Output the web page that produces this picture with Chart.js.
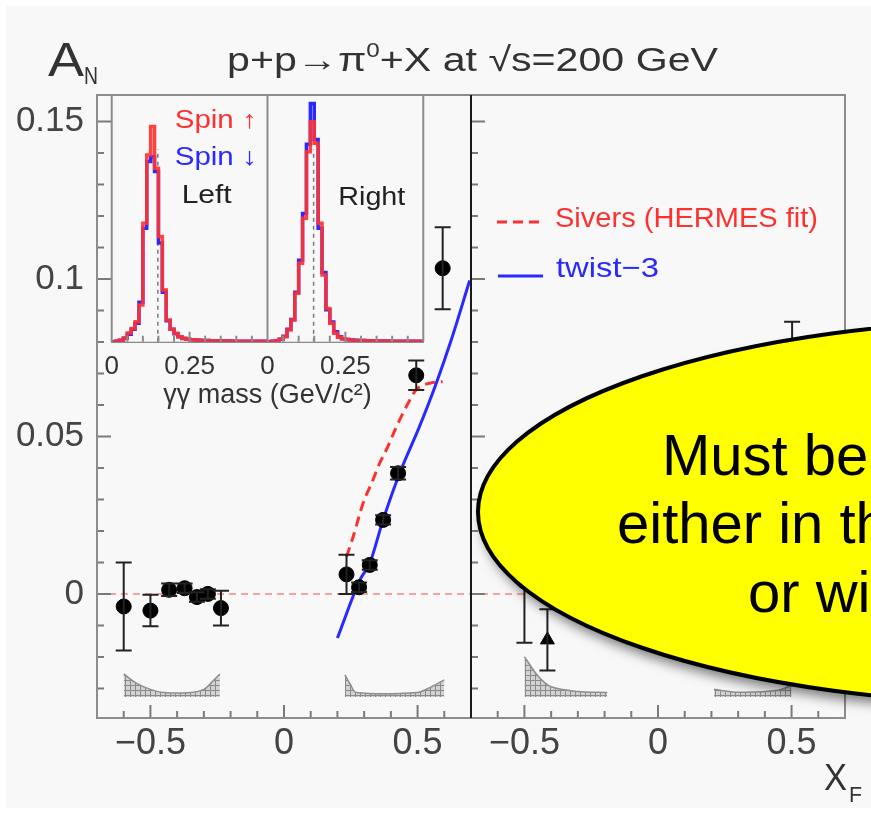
<!DOCTYPE html>
<html>
<head>
<meta charset="utf-8">
<script src="https://cdn.jsdelivr.net/npm/chart.js@4.4.1/dist/chart.umd.min.js"></script>
<style>
  html, body { margin: 0; padding: 0; background: #fff; }
  #wrap { position: relative; width: 871px; height: 813px; overflow: hidden; }
  #main { position: absolute; left: 0; top: 0; }
  #inset { position: absolute; left: 100px; top: 80px; }
</style>
</head>
<body>
<div id="wrap">
  <canvas id="main" width="871" height="813"></canvas>
  <canvas id="inset" width="340" height="340"></canvas>
</div>
<script>
// ---- data ----
// each panel has its own x_F axis running -0.7..0.7; right panel is shifted by PANEL_SHIFT
const PANEL_SHIFT = 1.4;

// left panel: circles
const leftXF = [-0.6, -0.5, -0.43, -0.372, -0.326, -0.285, -0.236, 0.234, 0.281, 0.321, 0.371, 0.427, 0.495, 0.594];
const leftAN = [-0.004, -0.0053, 0.0013, 0.0018, -0.001, 0.0, -0.0045, 0.0062, 0.0021, 0.0092, 0.0235, 0.0383, 0.0694, 0.1034];
const leftErr = [0.014, 0.005, 0.002, 0.0015, 0.0015, 0.0015, 0.0055, 0.0062, 0.0015, 0.0015, 0.0015, 0.002, 0.0047, 0.013];

// right panel (mostly hidden under the bubble)
const rightXF = [-0.5, 0.502];
const rightAN = [0.004, 0.062];
const rightErr = [0.0195, 0.0244];
const rightTriXF = [-0.414];
const rightTriAN = [-0.0146];
const rightTriErr = [0.0097];

// model curves
const siversXF = [0.234, 0.259, 0.296, 0.333, 0.358, 0.383, 0.421, 0.458, 0.495, 0.545, 0.594];
const siversAN = [0.0118, 0.0182, 0.0288, 0.0362, 0.0415, 0.0457, 0.0531, 0.0595, 0.0648, 0.0669, 0.0674];
const twistXF = [0.2, 0.284, 0.321, 0.371, 0.433, 0.507, 0.57, 0.626, 0.695];
const twistAN = [-0.014, 0.0044, 0.0097, 0.0235, 0.0383, 0.0531, 0.0669, 0.0806, 0.0995];

// y ticks (major ones get a label)
const yTickVals = [-0.03, -0.02, -0.01, 0, 0.01, 0.02, 0.03, 0.04, 0.05, 0.06, 0.07, 0.08, 0.09, 0.1, 0.11, 0.12, 0.13, 0.14, 0.15];
const yTickLabels = [0, 0.05, 0.1, 0.15];

// systematic error bands (top edge), filled down to BAND_BASE
const BAND_BASE = -0.0327;
const bandL1XF = [-0.6, -0.55, -0.5, -0.45, -0.35, -0.3, -0.27, -0.24];
const bandL1AN = [-0.0254, -0.0285, -0.0303, -0.0313, -0.0313, -0.0303, -0.028, -0.0254];
const bandL2XF = [0.228, 0.25, 0.27, 0.5, 0.55, 0.6];
const bandL2AN = [-0.0257, -0.029, -0.0313, -0.0313, -0.0296, -0.0273];
const bandR1XF = [-0.5, -0.45, -0.4, -0.3, -0.19];
const bandR1AN = [-0.0199, -0.026, -0.0295, -0.031, -0.0313];
const bandR2XF = [0.21, 0.3, 0.45, 0.5];
const bandR2AN = [-0.0303, -0.0312, -0.0306, -0.029];

// inset: gamma-gamma mass histograms, bins of 0.0125 GeV from 0 to 0.5
const massEdges = [0, 0.0125, 0.025, 0.0375, 0.05, 0.0625, 0.075, 0.0875, 0.1, 0.1125,
  0.125, 0.1375, 0.15, 0.1625, 0.175, 0.1875, 0.2, 0.2125, 0.225, 0.2375,
  0.25, 0.2625, 0.275, 0.2875, 0.3, 0.3125, 0.325, 0.3375, 0.35, 0.3625,
  0.375, 0.3875, 0.4, 0.4125, 0.425, 0.4375, 0.45, 0.4625, 0.475, 0.4875, 0.5];
const leftUp = [0, 0, 0.002, 0.006, 0.015, 0.035, 0.054, 0.081, 0.149, 0.48,
  0.757, 0.872, 0.703, 0.426, 0.21, 0.088, 0.05, 0.034, 0.02, 0.014,
  0.01, 0.008, 0.007, 0.006, 0.005, 0.005, 0.004, 0.004, 0.003, 0.003,
  0.003, 0.003, 0.002, 0.002, 0.002, 0.002, 0.002, 0.002, 0.002, 0.002];
const leftDown = [0, 0, 0.002, 0.006, 0.014, 0.03, 0.05, 0.075, 0.16, 0.46,
  0.73, 0.75, 0.69, 0.4, 0.2, 0.085, 0.05, 0.032, 0.02, 0.013,
  0.01, 0.008, 0.007, 0.006, 0.005, 0.005, 0.004, 0.004, 0.003, 0.003,
  0.003, 0.003, 0.002, 0.002, 0.002, 0.002, 0.002, 0.002, 0.002, 0.002];
const rightUp = [0, 0, 0.002, 0.004, 0.01, 0.02, 0.047, 0.088, 0.196, 0.318,
  0.5, 0.77, 0.892, 0.804, 0.48, 0.27, 0.135, 0.075, 0.034, 0.018,
  0.012, 0.009, 0.007, 0.006, 0.005, 0.005, 0.004, 0.004, 0.003, 0.003,
  0.003, 0.003, 0.002, 0.002, 0.002, 0.002, 0.002, 0.002, 0.002, 0.002];
const rightDown = [0, 0, 0.002, 0.004, 0.01, 0.022, 0.05, 0.09, 0.2, 0.33,
  0.52, 0.8, 0.966, 0.82, 0.46, 0.28, 0.13, 0.08, 0.04, 0.02,
  0.012, 0.009, 0.007, 0.006, 0.005, 0.005, 0.004, 0.004, 0.003, 0.003,
  0.003, 0.003, 0.002, 0.002, 0.002, 0.002, 0.002, 0.002, 0.002, 0.002];
const pi0Mass = 0.148;

const FONT = '"Liberation Sans", Arial, Helvetica, sans-serif';
const RED = '#ff3030';
const BLUE = '#2a2aff';
const BG = '#f8f8f8';

// ---- helpers ----
const pts = (xs, ys, shift) => xs.map((v, i) => ({ x: v + (shift || 0), y: ys[i] }));

function hatch() {
  const c = document.createElement('canvas');
  c.width = 5; c.height = 5;
  const g = c.getContext('2d');
  g.fillStyle = '#d2d2d2';
  g.fillRect(0, 0, 5, 5);
  g.strokeStyle = '#8a8a8a';
  g.lineWidth = 1;
  g.beginPath();
  g.moveTo(0, 0.5); g.lineTo(5, 0.5);
  g.moveTo(0.5, 0); g.lineTo(0.5, 5);
  g.stroke();
  return g.createPattern(c, 'repeat');
}
const bandFill = hatch();

function band(xs, ys, shift) {
  return {
    data: pts(xs, ys, shift),
    borderColor: '#8f8f8f', borderWidth: 1.5, backgroundColor: bandFill,
    fill: { value: BAND_BASE }, pointRadius: 0, tension: 0.3, order: 3
  };
}

function drawRuns(ctx, runs, x, y, targetW) {
  let w = 0;
  runs.forEach(r => { ctx.font = r[1]; w += ctx.measureText(r[0]).width; });
  const sx = targetW ? targetW / w : 1;
  ctx.save();
  ctx.translate(x, y);
  ctx.scale(sx, 1);
  let cx = 0;
  runs.forEach(r => {
    ctx.font = r[1];
    ctx.fillText(r[0], cx, r[2] || 0);
    cx += ctx.measureText(r[0]).width;
  });
  ctx.restore();
}

// ---- main chart plugins ----
const background = {
  id: 'background',
  beforeDraw(chart) {
    const ctx = chart.ctx;
    ctx.save();
    ctx.fillStyle = '#ffffff';
    ctx.fillRect(0, 0, chart.width, chart.height);
    ctx.fillStyle = BG;
    ctx.fillRect(6, 6, chart.width - 6, chart.height - 11);
    ctx.restore();
  }
};

const errorBars = {
  id: 'errorBars',
  afterDatasetsDraw(chart) {
    const { ctx, scales: { x, y } } = chart;
    ctx.save();
    ctx.strokeStyle = '#222';
    ctx.lineWidth = 2;
    chart.data.datasets.forEach(ds => {
      if (!ds.errors) return;
      ds.data.forEach((p, i) => {
        const px = x.getPixelForValue(p.x);
        const top = y.getPixelForValue(p.y + ds.errors[i]);
        const bot = y.getPixelForValue(p.y - ds.errors[i]);
        ctx.beginPath();
        ctx.moveTo(px, top); ctx.lineTo(px, bot);
        ctx.moveTo(px - 8, top); ctx.lineTo(px + 8, top);
        ctx.moveTo(px - 8, bot); ctx.lineTo(px + 8, bot);
        ctx.stroke();
      });
    });
    ctx.restore();
  }
};

const frameTicks = {
  id: 'frameTicks',
  afterDatasetsDraw(chart) {
    const { ctx, chartArea: a, scales: { x, y } } = chart;
    const mid = x.getPixelForValue(0.7);
    ctx.save();
    ctx.strokeStyle = '#7a7a7a';
    ctx.lineWidth = 2;
    ctx.beginPath();
    for (let k = -6; k <= 20; k++) {
      if (k === 7) continue;
      const kk = k > 7 ? k - 14 : k;
      const px = x.getPixelForValue(k / 10);
      const len = kk % 5 === 0 ? 13 : 7;
      ctx.moveTo(px, a.bottom); ctx.lineTo(px, a.bottom - len);
    }
    y.ticks.forEach(t => {
      const py = y.getPixelForValue(t.value);
      const len = yTickLabels.some(v => Math.abs(v - t.value) < 1e-6) ? 14 : 7;
      ctx.moveTo(a.left, py); ctx.lineTo(a.left + len, py);
      ctx.moveTo(mid, py); ctx.lineTo(mid + len, py);
    });
    ctx.stroke();
    ctx.strokeStyle = '#8c8c8c';
    ctx.strokeRect(a.left, a.top, a.right - a.left, a.bottom - a.top);
    ctx.strokeStyle = '#1a1a1a';
    ctx.beginPath();
    ctx.moveTo(mid, a.top); ctx.lineTo(mid, a.bottom);
    ctx.stroke();
    ctx.restore();
  }
};

const labels = {
  id: 'labels',
  afterDraw(chart) {
    const ctx = chart.ctx;
    ctx.save();
    ctx.fillStyle = '#333';
    ctx.textBaseline = 'alphabetic';
    // title
    drawRuns(ctx, [
      ['p+p', '34px ' + FONT],
      ['\u2192', '34px ' + FONT],
      ['\u03c0', '34px ' + FONT],
      ['0', '20px ' + FONT, -14],
      ['+X at \u221as=200 GeV', '34px ' + FONT]
    ], 227, 71, 491);
    // axis names
    drawRuns(ctx, [['A', '48px ' + FONT]], 48, 76, 36);
    drawRuns(ctx, [['N', '24px ' + FONT]], 84, 84, 14);
    drawRuns(ctx, [['X', '36px ' + FONT]], 824, 790, 23);
    drawRuns(ctx, [['F', '22px ' + FONT]], 849, 802, 13);
    // legend
    ctx.lineWidth = 3;
    ctx.strokeStyle = RED;
    ctx.setLineDash([10, 6]);
    ctx.beginPath(); ctx.moveTo(497, 222); ctx.lineTo(545, 222); ctx.stroke();
    ctx.setLineDash([]);
    ctx.strokeStyle = BLUE;
    ctx.beginPath(); ctx.moveTo(498, 276); ctx.lineTo(543, 276); ctx.stroke();
    ctx.fillStyle = RED;
    drawRuns(ctx, [['Sivers (HERMES fit)', '28px ' + FONT]], 555, 227, 263);
    ctx.fillStyle = BLUE;
    drawRuns(ctx, [['twist\u22123', '28px ' + FONT]], 556, 277, 103);
    ctx.restore();
  }
};

const bubble = {
  id: 'bubble',
  afterDraw(chart) {
    const ctx = chart.ctx;
    ctx.save();
    ctx.beginPath();
    ctx.ellipse(1038, 512, 560, 192, 0, 0, Math.PI * 2);
    ctx.shadowColor = 'rgba(0,0,0,0.5)';
    ctx.shadowBlur = 12;
    ctx.shadowOffsetX = 4;
    ctx.shadowOffsetY = 8;
    ctx.fillStyle = '#ffff00';
    ctx.fill();
    ctx.shadowColor = 'transparent';
    ctx.lineWidth = 4;
    ctx.strokeStyle = '#000';
    ctx.stroke();
    ctx.fillStyle = '#000';
    ctx.font = '58px ' + FONT;
    ctx.fillText('Must be', 662, 475);
    ctx.fillText('either in th', 617, 543);
    ctx.fillText('or wi', 748, 612);
    ctx.restore();
  }
};

// ---- main chart ----
new Chart(document.getElementById('main').getContext('2d'), {
  type: 'line',
  data: {
    datasets: [
      { data: pts(leftXF, leftAN), errors: leftErr, showLine: false, pointRadius: 7.5,
        pointBackgroundColor: '#000', pointBorderColor: '#000', order: 0 },
      { data: pts(rightXF, rightAN, PANEL_SHIFT), errors: rightErr, showLine: false, pointRadius: 7.5,
        pointBackgroundColor: '#000', pointBorderColor: '#000', order: 0 },
      { data: pts(rightTriXF, rightTriAN, PANEL_SHIFT), errors: rightTriErr, showLine: false,
        pointStyle: 'triangle', pointRadius: 8, pointBackgroundColor: '#000', pointBorderColor: '#000', order: 0 },
      { data: pts(twistXF, twistAN), borderColor: BLUE, borderWidth: 3, pointRadius: 0,
        cubicInterpolationMode: 'monotone', order: 1 },
      { data: pts(siversXF, siversAN), borderColor: RED, borderWidth: 3, borderDash: [10, 6],
        pointRadius: 0, cubicInterpolationMode: 'monotone', order: 1 },
      band(bandL1XF, bandL1AN),
      band(bandL2XF, bandL2AN),
      band(bandR1XF, bandR1AN, PANEL_SHIFT),
      band(bandR2XF, bandR2AN, PANEL_SHIFT),
      { data: [{ x: -0.7, y: 0 }, { x: 0.7 + PANEL_SHIFT, y: 0 }], borderColor: '#f4a3a3',
        borderWidth: 2, borderDash: [7, 5], pointRadius: 0, order: 4 }
    ]
  },
  options: {
    responsive: false,
    animation: false,
    events: [],
    layout: { padding: { top: 95, right: 26, left: 0, bottom: 0 } },
    plugins: { legend: { display: false }, tooltip: { enabled: false } },
    scales: {
      x: {
        type: 'linear', min: -0.7, max: 0.7 + PANEL_SHIFT,
        grid: { display: false, drawTicks: false, tickLength: 0 }, border: { display: false },
        afterFit(s) { s.height = 95; },
        ticks: {
          stepSize: 0.1, autoSkip: false, maxRotation: 0, padding: 4,
          color: '#444', font: { family: FONT, size: 36 },
          callback(v) {
            let k = Math.round(v * 10);
            if (k > 7) k -= 14;
            if (k === -5) return '\u22120.5';
            if (k === 0) return '0';
            if (k === 5) return '0.5';
            return '';
          }
        }
      },
      y: {
        min: -0.0394, max: 0.1584,
        grid: { display: false, drawTicks: false, tickLength: 0 }, border: { display: false },
        afterFit(s) { s.width = 97; },
        afterBuildTicks(s) { s.ticks = yTickVals.map(v => ({ value: v })); },
        ticks: {
          autoSkip: false, padding: 13,
          color: '#444', font: { family: FONT, size: 35 },
          callback(v) {
            const hit = yTickLabels.find(t => Math.abs(t - v) < 1e-6);
            return hit === undefined ? '' : String(hit);
          }
        }
      }
    }
  },
  plugins: [background, errorBars, frameTicks, labels, bubble]
});

// ---- inset: gamma-gamma mass ----
const stepPts = (vals, shift) => massEdges.map((m, i) => ({ x: m + shift, y: vals[Math.min(i, vals.length - 1)] }));

const insetDeco = {
  id: 'insetDeco',
  beforeDatasetsDraw(chart) {
    const { ctx, chartArea: a, scales: { x, y } } = chart;
    ctx.save();
    ctx.fillStyle = BG;
    ctx.fillRect(a.left, a.top, a.right - a.left, a.bottom - a.top);
    ctx.strokeStyle = '#777';
    ctx.lineWidth = 1.5;
    ctx.setLineDash([4, 4]);
    ctx.beginPath();
    [pi0Mass, pi0Mass + 0.5].forEach(m => {
      const px = x.getPixelForValue(m);
      ctx.moveTo(px, y.getPixelForValue(0)); ctx.lineTo(px, y.getPixelForValue(0.78));
    });
    ctx.stroke();
    ctx.restore();
  },
  afterDatasetsDraw(chart) {
    const { ctx, chartArea: a, scales: { x } } = chart;
    ctx.save();
    ctx.strokeStyle = '#8c8c8c';
    ctx.lineWidth = 2;
    ctx.beginPath();
    for (let k = 1; k < 20; k++) {
      if (k === 10) continue;
      const px = x.getPixelForValue(k * 0.05);
      const len = k % 5 === 0 ? 10 : 6;
      ctx.moveTo(px, a.bottom); ctx.lineTo(px, a.bottom - len);
    }
    [0, 0.5, 1].forEach(v => {
      const px = x.getPixelForValue(v);
      ctx.moveTo(px, a.top); ctx.lineTo(px, a.bottom);
    });
    ctx.moveTo(a.left, a.top); ctx.lineTo(a.right, a.top);
    ctx.stroke();
    ctx.restore();
  },
  afterDraw(chart) {
    const { ctx, chartArea: a } = chart;
    ctx.save();
    ctx.fillStyle = RED;
    drawRuns(ctx, [['Spin \u2191', '25px ' + FONT]], a.left + 63, 48, 82);
    ctx.fillStyle = BLUE;
    drawRuns(ctx, [['Spin \u2193', '25px ' + FONT]], a.left + 63, 85, 82);
    ctx.fillStyle = '#222';
    drawRuns(ctx, [['Left', '25px ' + FONT]], a.left + 70, 123, 50);
    drawRuns(ctx, [['Right', '25px ' + FONT]], a.left + 226.6, 125, 67);
    ctx.restore();
  }
};

new Chart(document.getElementById('inset').getContext('2d'), {
  type: 'line',
  data: {
    datasets: [
      { data: stepPts(leftUp, 0), stepped: 'after', borderColor: 'rgba(255,50,50,0.92)', borderWidth: 3.5, pointRadius: 0 },
      { data: stepPts(rightUp, 0.5), stepped: 'after', borderColor: 'rgba(255,50,50,0.92)', borderWidth: 3.5, pointRadius: 0 },
      { data: stepPts(leftDown, 0), stepped: 'after', borderColor: BLUE, borderWidth: 3.5, pointRadius: 0 },
      { data: stepPts(rightDown, 0.5), stepped: 'after', borderColor: BLUE, borderWidth: 3.5, pointRadius: 0 }
    ]
  },
  options: {
    responsive: false,
    animation: false,
    events: [],
    layout: { padding: { top: 15, left: 11.7, right: 16.7, bottom: 0 } },
    plugins: { legend: { display: false }, tooltip: { enabled: false } },
    scales: {
      x: {
        type: 'linear', min: 0, max: 1,
        grid: { display: false }, border: { display: true, color: '#8c8c8c', width: 2 },
        afterFit(s) { s.height = 78.3; },
        title: { display: true, text: '\u03b3\u03b3 mass (GeV/c\u00b2)', color: '#333',
          font: { family: FONT, size: 27 }, padding: { top: 0, bottom: 8 } },
        ticks: {
          stepSize: 0.05, autoSkip: false, maxRotation: 0, padding: 2,
          color: '#333', font: { family: FONT, size: 26 },
          callback(v) {
            const k = Math.round(v * 100);
            if (k === 0 || k === 50) return '0';
            if (k === 25 || k === 75) return '0.25';
            return '';
          }
        }
      },
      y: { display: false, min: 0, max: 1 }
    }
  },
  plugins: [insetDeco]
});
</script>
</body>
</html>
